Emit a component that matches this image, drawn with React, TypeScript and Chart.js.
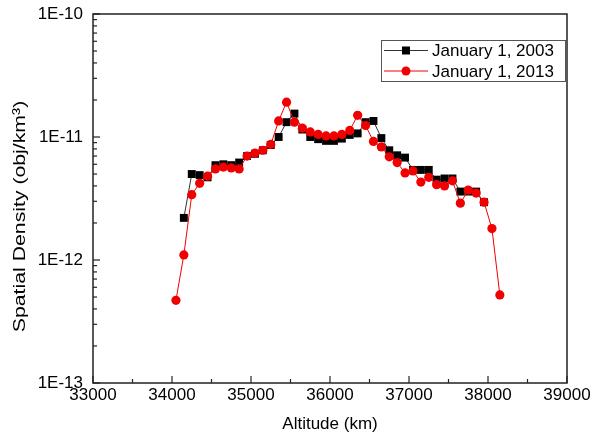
import React, { useEffect, useRef } from "react";
import { Chart, registerables } from "chart.js";

Chart.register(...registerables);

// ---- data ----
const seriesLabels = ["January 1, 2003", "January 1, 2013"];

const altitudes2003 = [
  34150, 34250, 34350, 34450, 34550, 34650, 34750, 34850, 34950,
  35050, 35150, 35250, 35350, 35450, 35550, 35650, 35750, 35850, 35950,
  36050, 36150, 36250, 36350, 36450, 36550, 36650, 36750, 36850, 36950,
  37050, 37150, 37250, 37350, 37450, 37550, 37650, 37750, 37850, 37950,
];
const density2003 = [
  2.2e-12, 5.0e-12, 4.9e-12, 4.7e-12, 5.9e-12, 6.0e-12, 5.9e-12, 6.2e-12, 7.0e-12,
  7.3e-12, 7.8e-12, 8.6e-12, 1.0e-11, 1.32e-11, 1.55e-11, 1.15e-11, 1.0e-11, 9.6e-12, 9.3e-12,
  9.3e-12, 9.7e-12, 1.04e-11, 1.07e-11, 1.32e-11, 1.35e-11, 9.8e-12, 7.8e-12, 7.1e-12, 6.8e-12,
  5.4e-12, 5.4e-12, 5.4e-12, 4.5e-12, 4.6e-12, 4.6e-12, 3.6e-12, 3.6e-12, 3.6e-12, 2.95e-12,
];

const altitudes2013 = [
  34050, 34150, 34250, 34350, 34450, 34550, 34650, 34750, 34850, 34950,
  35050, 35150, 35250, 35350, 35450, 35550, 35650, 35750, 35850, 35950,
  36050, 36150, 36250, 36350, 36450, 36550, 36650, 36750, 36850, 36950,
  37050, 37150, 37250, 37350, 37450, 37550, 37650, 37750, 37850, 37950,
  38050, 38150,
];
const density2013 = [
  4.7e-13, 1.1e-12, 3.4e-12, 4.2e-12, 4.8e-12, 5.5e-12, 5.7e-12, 5.6e-12, 5.5e-12, 7.0e-12,
  7.4e-12, 7.8e-12, 8.7e-12, 1.35e-11, 1.92e-11, 1.32e-11, 1.18e-11, 1.1e-11, 1.05e-11, 1.02e-11,
  1.02e-11, 1.05e-11, 1.13e-11, 1.5e-11, 1.24e-11, 9.2e-12, 8.3e-12, 6.9e-12, 6.2e-12, 5.1e-12,
  5.3e-12, 4.3e-12, 4.7e-12, 4.1e-12, 4.0e-12, 4.4e-12, 2.9e-12, 3.7e-12, 3.5e-12, 2.95e-12,
  1.8e-12, 5.2e-13,
];

const xTicks = [33000, 34000, 35000, 36000, 37000, 38000, 39000];
const yTicks = [1e-13, 1e-12, 1e-11, 1e-10];

const xTitle = "Altitude (km)";
const yTitle = "Spatial Density (obj/km\u00B3)";

const FONT = "'Liberation Sans', Arial, sans-serif";
const BLACK = "#000000";
const RED = "#f00000";
const AXIS = "#222222";

const frameAndTicks = {
  id: "frameAndTicks",
  afterDatasetsDraw(chart: any) {
    const { ctx, chartArea: a, scales } = chart;
    const x = scales.x;
    const y = scales.y;
    ctx.save();
    ctx.strokeStyle = AXIS;
    ctx.lineWidth = 1.5;
    ctx.strokeRect(a.left, a.top, a.right - a.left, a.bottom - a.top);
    ctx.lineWidth = 1.2;
    const line = (x1: number, y1: number, x2: number, y2: number) => {
      ctx.beginPath();
      ctx.moveTo(x1, y1);
      ctx.lineTo(x2, y2);
      ctx.stroke();
    };
    for (let i = 0; i < xTicks.length; i++) {
      const px = x.getPixelForValue(xTicks[i]);
      line(px, a.bottom, px, a.bottom - 7);
      if (i < xTicks.length - 1) {
        const mx = x.getPixelForValue((xTicks[i] + xTicks[i + 1]) / 2);
        line(mx, a.bottom, mx, a.bottom - 4);
      }
    }
    for (let i = 0; i < yTicks.length; i++) {
      const py = y.getPixelForValue(yTicks[i]);
      line(a.left, py, a.left + 7, py);
      if (i < yTicks.length - 1) {
        for (let m = 2; m <= 9; m++) {
          const my = y.getPixelForValue(yTicks[i] * m);
          line(a.left, my, a.left + 4, my);
        }
      }
    }
    ctx.restore();
  },
};

const yTitlePlugin = {
  id: "yTitlePlugin",
  afterDraw(chart: any) {
    const { ctx, chartArea: a } = chart;
    ctx.save();
    ctx.translate(20, (a.top + a.bottom) / 2 + 18);
    ctx.rotate(-Math.PI / 2);
    ctx.scale(1.25, 1);
    ctx.fillStyle = "#000";
    ctx.font = `17px ${FONT}`;
    ctx.textAlign = "center";
    ctx.textBaseline = "middle";
    ctx.fillText(yTitle, 0, 0);
    ctx.restore();
  },
};

const legendBox = {
  id: "legendBox",
  afterDraw(chart: any) {
    const { ctx, chartArea: a } = chart;
    const w = 184;
    const h = 41;
    const left = a.right - w - 2;
    const top = a.top + 26;
    ctx.save();
    ctx.fillStyle = "#ffffff";
    ctx.fillRect(left, top, w, h);
    ctx.strokeStyle = "#555555";
    ctx.lineWidth = 1;
    ctx.strokeRect(left + 0.5, top + 0.5, w, h);
    const rows = [
      { label: seriesLabels[0], color: BLACK, line: "#333333", style: "rect" },
      { label: seriesLabels[1], color: RED, line: RED, style: "circle" },
    ];
    rows.forEach((r, i) => {
      const cy = top + 10.5 + i * 20.5;
      ctx.strokeStyle = r.line;
      ctx.lineWidth = 1;
      ctx.beginPath();
      ctx.moveTo(left + 3, cy);
      ctx.lineTo(left + 47, cy);
      ctx.stroke();
      ctx.fillStyle = r.color;
      if (r.style === "rect") {
        ctx.fillRect(left + 25 - 4, cy - 4, 8, 8);
      } else {
        ctx.beginPath();
        ctx.arc(left + 25, cy, 4.5, 0, Math.PI * 2);
        ctx.fill();
      }
      ctx.fillStyle = "#000000";
      ctx.font = `17px ${FONT}`;
      ctx.textBaseline = "middle";
      ctx.textAlign = "left";
      ctx.fillText(r.label, left + 51, cy + 1);
    });
    ctx.restore();
  },
};

export default function App() {
  const canvasRef = useRef<HTMLCanvasElement | null>(null);

  useEffect(() => {
    const canvas = canvasRef.current;
    if (!canvas) return;
    const chart = new Chart(canvas, {
      type: "scatter",
      data: {
        datasets: [
          {
            label: seriesLabels[0],
            data: altitudes2003.map((v, i) => ({ x: v, y: density2003[i] })),
            showLine: true,
            borderColor: "#333333",
            borderWidth: 1,
            backgroundColor: BLACK,
            pointStyle: "rect",
            pointRadius: 5.6,
            pointBorderWidth: 0,
            pointBackgroundColor: BLACK,
            order: 1,
          },
          {
            label: seriesLabels[1],
            data: altitudes2013.map((v, i) => ({ x: v, y: density2013[i] })),
            showLine: true,
            borderColor: RED,
            borderWidth: 1,
            backgroundColor: RED,
            pointStyle: "circle",
            pointRadius: 4.6,
            pointBorderWidth: 0,
            pointBackgroundColor: RED,
            order: 0,
          },
        ],
      },
      options: {
        responsive: false,
        animation: false,
        devicePixelRatio: 1,
        layout: { padding: { top: 14, right: 25, left: 0, bottom: 0 } },
        plugins: {
          legend: { display: false },
          tooltip: { enabled: false },
        },
        scales: {
          x: {
            type: "linear",
            min: 33000,
            max: 39000,
            afterBuildTicks: (s: any) => {
              s.ticks = xTicks.map((v) => ({ value: v }));
            },
            afterFit: (s: any) => {
              s.height = 55;
              s.paddingLeft = 0;
              s.paddingRight = 0;
            },
            grid: { display: false, drawTicks: false, tickLength: 0 },
            border: { display: false },
            ticks: {
              color: "#000",
              font: { family: FONT, size: 17 },
              padding: 2,
              maxRotation: 0,
              callback: (v: any) => String(v),
            },
            title: {
              display: true,
              text: xTitle,
              color: "#000",
              font: { family: FONT, size: 17 },
              padding: { top: 0, bottom: 3 },
            },
          },
          y: {
            type: "logarithmic",
            min: 1e-13,
            max: 1e-10,
            afterBuildTicks: (s: any) => {
              s.ticks = yTicks.map((v) => ({ value: v }));
            },
            afterFit: (s: any) => {
              s.width = 93;
              s.paddingTop = 0;
              s.paddingBottom = 0;
            },
            grid: { display: false, drawTicks: false, tickLength: 0 },
            border: { display: false },
            ticks: {
              color: "#000",
              font: { family: FONT, size: 17 },
              padding: 10,
              callback: (v: any) => Number(v).toExponential(0).toUpperCase().replace("+", ""),
            },
            title: { display: false },
          },
        },
      },
      plugins: [frameAndTicks, legendBox, yTitlePlugin],
    });
    return () => chart.destroy();
  }, []);

  return (
    <div style={{ position: "absolute", left: 0, top: 0, width: 592, height: 438, background: "#fff" }}>
      <canvas ref={canvasRef} width={592} height={438} style={{ display: "block" }} />
    </div>
  );
}
